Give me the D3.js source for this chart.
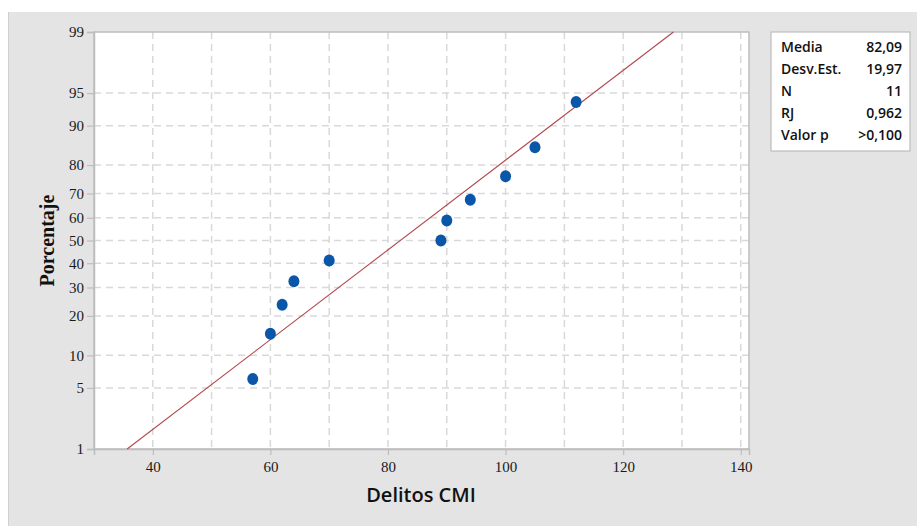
<!DOCTYPE html>
<html>
<head>
<meta charset="utf-8">
<script src="https://cdn.jsdelivr.net/npm/d3@7"></script>
<style>
  html, body { margin: 0; padding: 0; background: #ffffff; }
  svg { display: block; }
</style>
</head>
<body>
<svg id="chart" width="917" height="526"></svg>
<script>
// ---- Data ----
const delitos = [57, 60, 62, 64, 70, 89, 90, 94, 100, 105, 112];
const porcentaje = [6.1, 14.9, 23.7, 32.5, 41.2, 50.0, 58.8, 67.5, 76.3, 85.1, 93.9];
const yTicks = [1, 5, 10, 20, 30, 40, 50, 60, 70, 80, 90, 95, 99];
const xTicks = [40, 60, 80, 100, 120, 140];
const xGrid = [40, 50, 60, 70, 80, 90, 100, 110, 120, 130, 140];
const statLabels = ["Media", "Desv.Est.", "N", "RJ", "Valor p"];
const statValues = ["82,09", "19,97", "11", "0,962", ">0,100"];
const media = 82.09, desv = 19.97;

// inverse standard normal (Acklam)
function probit(p) {
  const a = [-3.969683028665376e+01, 2.209460984245205e+02, -2.759285104469687e+02, 1.383577518672690e+02, -3.066479806614716e+01, 2.506628277459239e+00];
  const b = [-5.447609879822406e+01, 1.615858368580409e+02, -1.556989798598866e+02, 6.680131188771972e+01, -1.328068155288572e+01];
  const c = [-7.784894002430293e-03, -3.223964580411365e-01, -2.400758277161838e+00, -2.549732539343734e+00, 4.374664141464968e+00, 2.938163982698783e+00];
  const d = [7.784695709041462e-03, 3.224671290700398e-01, 2.445134137142996e+00, 3.754408661907416e+00];
  const pl = 0.02425, ph = 1 - pl;
  let q, r;
  if (p < pl) { q = Math.sqrt(-2 * Math.log(p)); return (((((c[0]*q+c[1])*q+c[2])*q+c[3])*q+c[4])*q+c[5]) / ((((d[0]*q+d[1])*q+d[2])*q+d[3])*q+1); }
  if (p <= ph) { q = p - 0.5; r = q*q; return (((((a[0]*r+a[1])*r+a[2])*r+a[3])*r+a[4])*r+a[5])*q / (((((b[0]*r+b[1])*r+b[2])*r+b[3])*r+b[4])*r+1); }
  q = Math.sqrt(-2 * Math.log(1 - p));
  return -(((((c[0]*q+c[1])*q+c[2])*q+c[3])*q+c[4])*q+c[5]) / ((((d[0]*q+d[1])*q+d[2])*q+d[3])*q+1);
}

const svg = d3.select("#chart");
const W = 917, H = 526;
const L = 94, R = 749, T = 32, B = 449;

// background
svg.append("rect").attr("x", 8).attr("y", 12).attr("width", W - 8).attr("height", H - 12).attr("fill", "#e4e4e4");
svg.append("line").attr("x1", 8.5).attr("x2", 8.5).attr("y1", 12).attr("y2", H).attr("stroke", "#cfcfcf");

// scales
const x = d3.scaleLinear().domain([30, 141.4]).range([L, R]);
const zScale = d3.scaleLinear().domain([probit(0.01), probit(0.99)]).range([B, T]);
const y = p => zScale(probit(p / 100));
y.copy = () => y;
y.range = () => zScale.range();
y.domain = () => [1, 99];

// plot area
svg.append("rect").attr("x", L).attr("y", T).attr("width", R - L).attr("height", B - T).attr("fill", "#ffffff");

// grid
const g = svg.append("g");
g.selectAll("line.vg").data(xGrid).join("line")
  .attr("x1", d => x(d)).attr("x2", d => x(d)).attr("y1", T).attr("y2", B)
  .attr("stroke", "#d9d9d9").attr("stroke-width", 1.5).attr("stroke-dasharray", "7,5");
g.selectAll("line.hg").data(yTicks.filter(d => d !== 1 && d !== 99)).join("line")
  .attr("x1", L).attr("x2", R).attr("y1", d => y(d)).attr("y2", d => y(d))
  .attr("stroke", "#d9d9d9").attr("stroke-width", 1.5).attr("stroke-dasharray", "7,5");

// border
svg.append("rect").attr("x", L).attr("y", T).attr("width", R - L).attr("height", B - T)
  .attr("fill", "none").attr("stroke", "#bdbdbd").attr("stroke-width", 1.5);

// axes
const xAxis = svg.append("g").attr("transform", `translate(0,${B})`)
  .call(d3.axisBottom(x).tickValues(xTicks).tickSize(6).tickPadding(6).tickFormat(d3.format("d")));
const yAxis = svg.append("g").attr("transform", `translate(${L},0)`)
  .call(d3.axisLeft(y).tickValues(yTicks).tickSize(7).tickPadding(3).tickFormat(d => d));
[xAxis, yAxis].forEach(a => {
  a.select(".domain").attr("stroke", "#bdbdbd").attr("stroke-width", 1.5);
  a.selectAll(".tick line").attr("stroke", "#bdbdbd").attr("stroke-width", 1.2);
  a.selectAll(".tick text").attr("font-family", "'Liberation Serif', 'DejaVu Serif', serif")
    .attr("font-size", 15).attr("fill", "#1a1a1a");
});

// fit line
const fitPts = [1, 99].map(p => ({ v: media + desv * probit(p / 100), p }));
svg.append("line")
  .attr("x1", x(fitPts[0].v)).attr("y1", y(fitPts[0].p))
  .attr("x2", x(fitPts[1].v)).attr("y2", y(fitPts[1].p))
  .attr("stroke", "#b3474d").attr("stroke-width", 1.1);

// points
svg.selectAll("ellipse.pt").data(delitos).join("ellipse")
  .attr("cx", d => x(d)).attr("cy", (d, i) => y(porcentaje[i]))
  .attr("rx", 5.5).attr("ry", 6).attr("fill", "#0a56a8");

// axis titles
svg.append("text").attr("x", 421).attr("y", 502).attr("text-anchor", "middle")
  .attr("font-family", "'Open Sans', 'Noto Sans', sans-serif").attr("font-weight", 600)
  .attr("font-size", 20).attr("fill", "#111")
  .text("Delitos CMI");
svg.append("text").attr("transform", `translate(54,${(T + B) / 2}) rotate(-90)`).attr("text-anchor", "middle")
  .attr("font-family", "'Liberation Serif', 'DejaVu Serif', serif").attr("font-weight", "bold")
  .attr("font-size", 20).attr("fill", "#111").text("Porcentaje");

// stats box
const lg = svg.append("g");
lg.append("rect").attr("x", 771).attr("y", 32).attr("width", 139).attr("height", 119)
  .attr("fill", "#ffffff").attr("stroke", "#bdbdbd").attr("stroke-width", 1.2);
statLabels.forEach((s, i) => {
  const yy = 52 + i * 22;
  lg.append("text").attr("x", 781).attr("y", yy)
    .attr("font-family", "'Open Sans', 'Noto Sans', sans-serif").attr("font-weight", 600)
    .attr("font-size", 14).attr("fill", "#111").text(s);
  lg.append("text").attr("x", 902).attr("y", yy).attr("text-anchor", "end")
    .attr("font-family", "'Open Sans', 'Noto Sans', sans-serif").attr("font-weight", 600)
    .attr("font-size", 14).attr("fill", "#111").text(statValues[i]);
});
</script>
</body>
</html>
